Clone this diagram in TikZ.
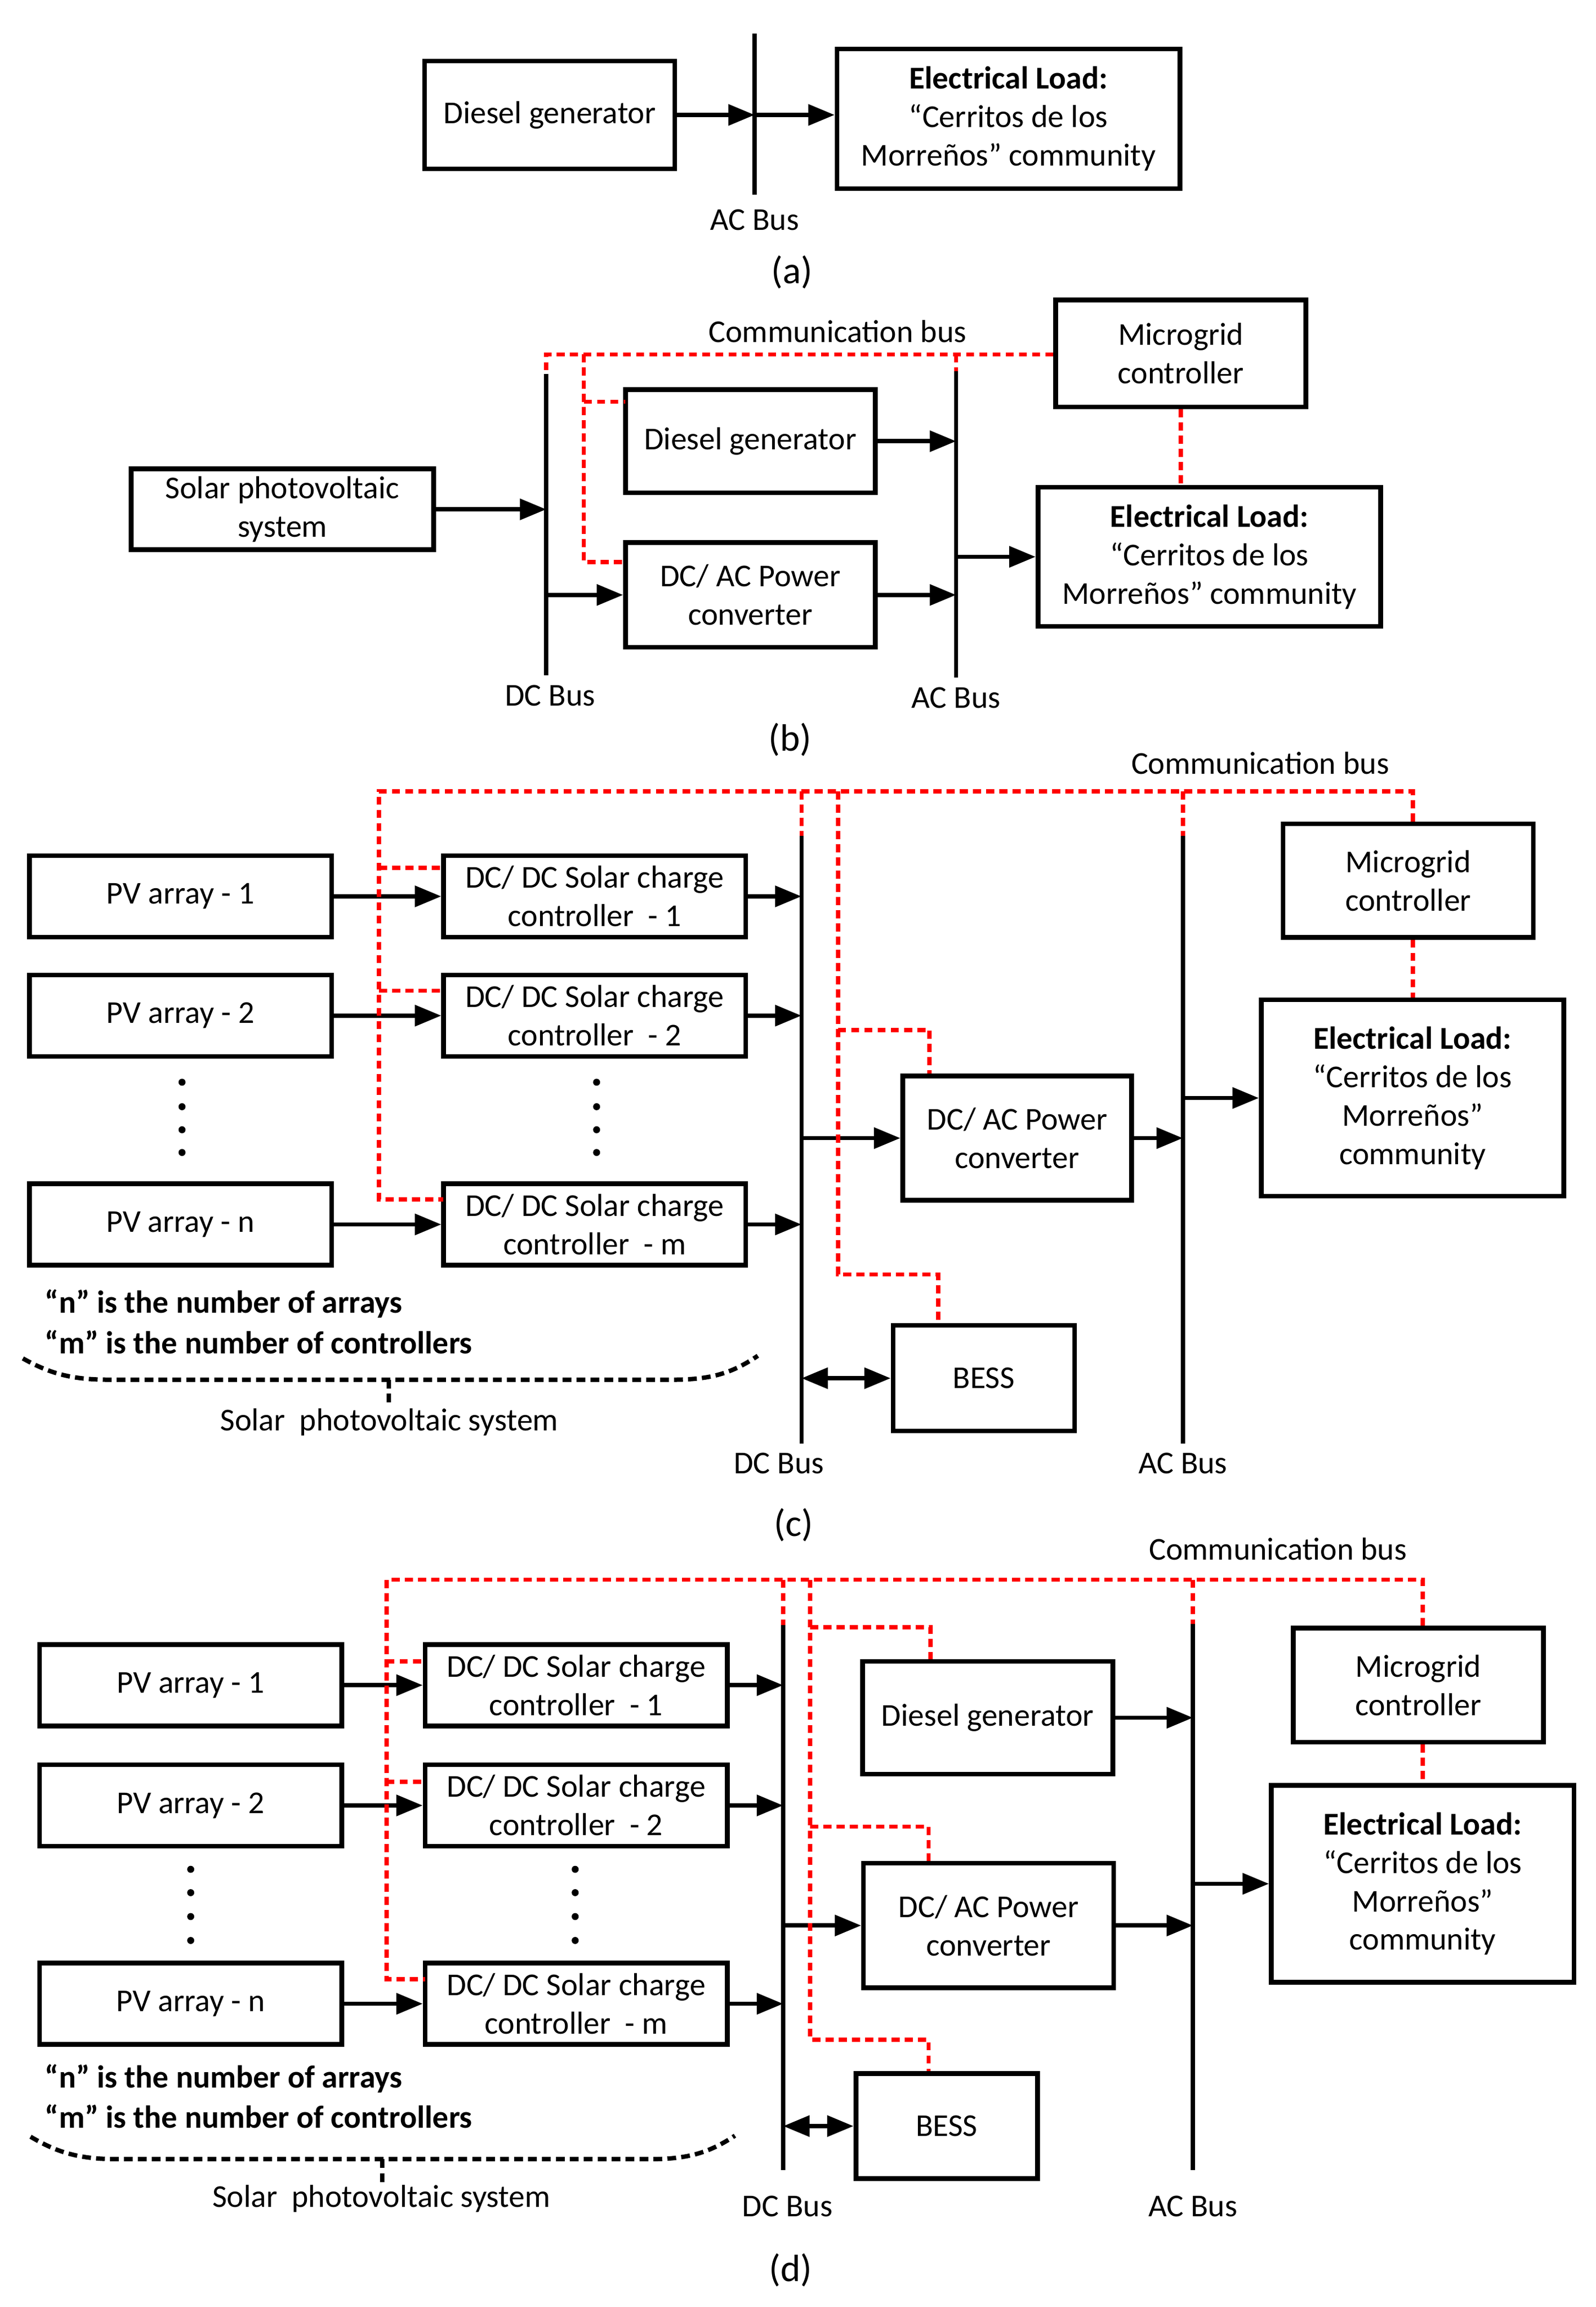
\documentclass[tikz,border=0pt]{standalone}
\usepackage{fontspec}
\setmainfont{Carlito}
\usetikzlibrary{arrows.meta,calc}
\begin{document}
\begin{tikzpicture}[x=1pt,y=-1pt,
  every node/.style={font=\fontsize{21.7}{26.2}\selectfont},
  box/.style={draw, line width=3.2pt, inner sep=0pt, align=center},
  pvbox/.style={box, minimum width=206pt, minimum height=55.5pt},
  ctlbox/.style={box, minimum width=206pt, minimum height=55.5pt},
  busline/.style={line width=2.9pt},
  arr/.style={line width=2.9pt, -{Triangle[length=18pt,width=14pt]}},
  darr/.style={line width=2.9pt, {Triangle[length=18pt,width=14pt]}-{Triangle[length=18pt,width=14pt]}},
  comm/.style={red, line width=2.9pt, dash pattern=on 5.5pt off 3.5pt},
  bracel/.style={line width=3pt, dash pattern=on 6pt off 3.5pt},
  lbl/.style={inner sep=0pt},
  captxt/.style={inner sep=0pt, font=\fontsize{26}{30}\selectfont},
  dotc/.style={fill=black}
]
\useasboundingbox (0,0) rectangle (1088,1572.8);

%%%%%%%%%%%%%%%% (a)
\node[box, minimum width=170.5pt, minimum height=73.5pt] (dgA) at (374.75,78.35) {Diesel generator};
\node[box, minimum width=233.7pt, minimum height=95.3pt] (ldA) at (687.45,80.95) {\textbf{Electrical Load:}\\“Cerritos de los\\Morreños” community};
\coordinate (acAt) at (514.5,22.9);
\coordinate (acAb) at (514.5,132.8);
\draw[busline] (acAt) -- (acAb);
\draw[arr] (dgA.east) -- (dgA.east -| acAt);
\draw[arr] (dgA.east -| acAt) -- (dgA.east -| ldA.west);
\node[lbl] (acAl) at (514.5,150.1) {AC Bus};
\node[captxt] (capA) at (540,185.5) {(a)};

%%%%%%%%%%%%%%%% (b)
\node[box, minimum width=206.3pt, minimum height=55.1pt] (solB) at (192.55,347.25) {Solar photovoltaic\\system};
\node[box, minimum width=170.2pt, minimum height=70.4pt] (dgB) at (511.5,300.8) {Diesel generator};
\node[box, minimum width=170.2pt, minimum height=71.4pt] (cvB) at (511.5,405.6) {DC/ AC Power\\converter};
\node[box, minimum width=170.6pt, minimum height=72.9pt] (mgB) at (805,240.95) {Microgrid\\controller};
\node[box, minimum width=233.7pt, minimum height=95pt] (ldB) at (824.45,379.6) {\textbf{Electrical Load:}\\“Cerritos de los\\Morreños” community};
\coordinate (dcBt) at (372.4,254.8);
\coordinate (dcBb) at (372.4,460.4);
\coordinate (acBt) at (651.8,253.1);
\coordinate (acBb) at (651.8,461.8);
\draw[busline] (dcBt) -- (dcBb);
\draw[busline] (acBt) -- (acBb);
\draw[arr] (solB.east) -- (solB.east -| dcBt);
\draw[arr] (cvB.west -| dcBt) -- (cvB.west);
\draw[arr] (dgB.east) -- (dgB.east -| acBt);
\draw[arr] (cvB.east) -- (cvB.east -| acBt);
\draw[arr] (ldB.west -| acBt) -- (ldB.west);
\coordinate (cbBl) at (372.4,241.6);
\coordinate (cbBj) at (398,241.6);
\coordinate (cbBd) at (426.4,273.9);
\coordinate (cbBc) at (426.4,383.1);
\draw[comm] (mgB.west |- cbBl) -- (cbBl) -- (dcBt);
\draw[comm] (cbBj) |- (cbBc);
\draw[comm] (cbBj |- cbBd) -- (cbBd);
\draw[comm] (acBt |- cbBl) -- (acBt);
\draw[comm] (mgB.south) -- (mgB.south |- ldB.north);
\node[lbl] (cbBlab) at (571,226) {Communication bus};
\node[lbl] (dcBl) at (375,474.3) {DC Bus};
\node[lbl] (acBl) at (651.8,475.7) {AC Bus};
\node[captxt] (capB) at (538.5,504.4) {(b)};

%%%%%%%%%%%%%%%% (c)
\node[pvbox] (pv1C) at (123.05,611.1) {PV array - 1};
\node[pvbox] (pv2C) at (123.05,692.4) {PV array - 2};
\node[pvbox] (pvnC) at (123.05,834.75) {PV array - n};
\node[ctlbox] (c1C) at (405.45,611.1) {DC/ DC Solar charge\\controller\ \ - 1};
\node[ctlbox] (c2C) at (405.45,692.4) {DC/ DC Solar charge\\controller\ \ - 2};
\node[ctlbox] (cmC) at (405.45,834.75) {DC/ DC Solar charge\\controller\ \ - m};
\node[box, minimum width=156pt, minimum height=84.6pt] (cvC) at (693.4,775.9) {DC/ AC Power\\converter};
\node[box, minimum width=123.8pt, minimum height=72pt] (bsC) at (670.7,939.6) {BESS};
\node[box, minimum width=170.6pt, minimum height=77.3pt] (mgC) at (960,600.35) {Microgrid\\controller};
\node[box, minimum width=206.3pt, minimum height=133.9pt] (ldC) at (962.95,748.55) {\textbf{Electrical Load:}\\“Cerritos de los\\Morreños”\\community};
\coordinate (dcCt) at (546.4,569.7);
\coordinate (dcCb) at (546.4,984);
\coordinate (acCt) at (806.4,569.7);
\coordinate (acCb) at (806.4,984);
\draw[busline] (dcCt) -- (dcCb);
\draw[busline] (acCt) -- (acCb);
\draw[arr] (pv1C.east) -- (c1C.west);
\draw[arr] (pv2C.east) -- (c2C.west);
\draw[arr] (pvnC.east) -- (cmC.west);
\draw[arr] (c1C.east) -- (c1C.east -| dcCt);
\draw[arr] (c2C.east) -- (c2C.east -| dcCt);
\draw[arr] (cmC.east) -- (cmC.east -| dcCt);
\draw[arr] (cvC.west -| dcCt) -- (cvC.west);
\draw[arr] (cvC.east) -- (cvC.east -| acCt);
\draw[arr] (ldC.west -| acCt) -- (ldC.west);
\draw[darr] (bsC.west -| dcCt) -- (bsC.west);
\coordinate (cbCl) at (258.3,539.5);
\coordinate (cbCr) at (963.1,539.5);
\coordinate (s1C) at (302.3,591.5);
\coordinate (s2C) at (302.3,675.4);
\coordinate (smC) at (302.3,817.6);
\coordinate (brC) at (571.3,539.5);
\coordinate (kcC) at (633.7,702.1);
\coordinate (kbC) at (639.6,868.9);
\draw[comm] (cbCr |- mgC.north) -- (cbCr) -- (cbCl) |- (smC);
\draw[comm] (cbCl |- s1C) -- (s1C);
\draw[comm] (cbCl |- s2C) -- (s2C);
\draw[comm] (dcCt |- cbCl) -- (dcCt);
\draw[comm] (acCt |- cbCl) -- (acCt);
\draw[comm] (brC) |- (kbC) -- (kbC |- bsC.north);
\draw[comm] (brC |- kcC) -- (kcC) -- (kcC |- cvC.north);
\draw[comm] (cbCr |- mgC.south) -- (cbCr |- ldC.north);
\foreach \yy in {737.8,754.5,770.2,785.7} {
  \fill[dotc] (124.1,\yy) circle (2.4pt);
  \fill[dotc] (406.7,\yy) circle (2.4pt);
}
\node[lbl, anchor=base west, font=\fontsize{21.7}{26.2}\selectfont\bfseries] (nC) at (30.5,895.2) {“n” is the number of arrays};
\node[lbl, anchor=base west, font=\fontsize{21.7}{26.2}\selectfont\bfseries] (mC) at (30.5,923) {“m” is the number of controllers};
\draw[bracel] (15.6,926.1) .. controls (35,937) and (50,940.6) .. (75,940.6) -- (458,940.6) .. controls (483,940.6) and (498,937) .. (516.6,924.3);
\draw[bracel] (265.2,940.6) -- (265.2,956.9);
\node[lbl] (spvC) at (265.4,969.4) {Solar\ \ photovoltaic system};
\node[lbl] (cbClab) at (859.1,520.4) {Communication bus};
\node[lbl] (dcCl) at (531,997.8) {DC Bus};
\node[lbl] (acCl) at (806.4,997.8) {AC Bus};
\node[captxt] (capC) at (541,1039.7) {(c)};

%%%%%%%%%%%%%%%% (d)
\node[pvbox] (pv1D) at (130,1148.85) {PV array - 1};
\node[pvbox] (pv2D) at (130,1230.85) {PV array - 2};
\node[pvbox] (pvnD) at (130,1366.05) {PV array - n};
\node[ctlbox] (c1D) at (392.8,1148.85) {DC/ DC Solar charge\\controller\ \ - 1};
\node[ctlbox] (c2D) at (392.8,1230.85) {DC/ DC Solar charge\\controller\ \ - 2};
\node[ctlbox] (cmD) at (392.8,1366.05) {DC/ DC Solar charge\\controller\ \ - m};
\node[box, minimum width=170.6pt, minimum height=76.9pt] (dgD) at (673.3,1171.05) {Diesel generator};
\node[box, minimum width=170.5pt, minimum height=85pt] (cvD) at (673.95,1312.7) {DC/ AC Power\\converter};
\node[box, minimum width=123.7pt, minimum height=71.5pt] (bsD) at (645.35,1449.45) {BESS};
\node[box, minimum width=170.6pt, minimum height=77.7pt] (mgD) at (966.9,1148.85) {Microgrid\\controller};
\node[box, minimum width=206.3pt, minimum height=134.1pt] (ldD) at (969.85,1284.25) {\textbf{Electrical Load:}\\“Cerritos de los\\Morreños”\\community};
\coordinate (dcDt) at (533.9,1108);
\coordinate (dcDb) at (533.9,1479.3);
\coordinate (acDt) at (813.3,1107.3);
\coordinate (acDb) at (813.3,1479.3);
\draw[busline] (dcDt) -- (dcDb);
\draw[busline] (acDt) -- (acDb);
\draw[arr] (pv1D.east) -- (c1D.west);
\draw[arr] (pv2D.east) -- (c2D.west);
\draw[arr] (pvnD.east) -- (cmD.west);
\draw[arr] (c1D.east) -- (c1D.east -| dcDt);
\draw[arr] (c2D.east) -- (c2D.east -| dcDt);
\draw[arr] (cmD.east) -- (cmD.east -| dcDt);
\draw[arr] (dgD.east) -- (dgD.east -| acDt);
\draw[arr] (cvD.west -| dcDt) -- (cvD.west);
\draw[arr] (cvD.east) -- (cvD.east -| acDt);
\draw[arr] (ldD.west -| acDt) -- (ldD.west);
\draw[darr] (bsD.west -| dcDt) -- (bsD.west);
\coordinate (cbDl) at (263.5,1077);
\coordinate (cbDr) at (970,1077);
\coordinate (s1D) at (289.8,1132.6);
\coordinate (s2D) at (289.8,1214.7);
\coordinate (smD) at (289.8,1349.3);
\coordinate (brD) at (552.3,1077);
\coordinate (kdD) at (634.4,1109.4);
\coordinate (kcD) at (633,1245.3);
\coordinate (kbD) at (633,1390.5);
\draw[comm] (cbDr |- mgD.north) -- (cbDr) -- (cbDl) |- (smD);
\draw[comm] (cbDl |- s1D) -- (s1D);
\draw[comm] (cbDl |- s2D) -- (s2D);
\draw[comm] (dcDt |- cbDl) -- (dcDt);
\draw[comm] (acDt |- cbDl) -- (acDt);
\draw[comm] (brD) |- (kbD) -- (kbD |- bsD.north);
\draw[comm] (brD |- kdD) -- (kdD) -- (kdD |- dgD.north);
\draw[comm] (brD |- kcD) -- (kcD) -- (kcD |- cvD.north);
\draw[comm] (cbDr |- mgD.south) -- (cbDr |- ldD.north);
\foreach \yy in {1274.4,1290.3,1306.6,1322.9} {
  \fill[dotc] (130,\yy) circle (2.4pt);
  \fill[dotc] (392.1,\yy) circle (2.4pt);
}
\node[lbl, anchor=base west, font=\fontsize{21.7}{26.2}\selectfont\bfseries] (nD) at (30.5,1423.4) {“n” is the number of arrays};
\node[lbl, anchor=base west, font=\fontsize{21.7}{26.2}\selectfont\bfseries] (mD) at (30.5,1450.8) {“m” is the number of controllers};
\draw[bracel] (20.8,1456.7) .. controls (40,1468) and (55,1472) .. (80,1472) -- (443,1472) .. controls (468,1472) and (483,1468) .. (501,1456);
\draw[bracel] (260.7,1472) -- (260.7,1488);
\node[lbl] (spvD) at (260,1499) {Solar\ \ photovoltaic system};
\node[lbl] (cbDlab) at (871.2,1056) {Communication bus};
\node[lbl] (dcDl) at (536.8,1504) {DC Bus};
\node[lbl] (acDl) at (813.3,1504) {AC Bus};
\node[captxt] (capD) at (539,1547.6) {(d)};
\end{tikzpicture}
\end{document}
